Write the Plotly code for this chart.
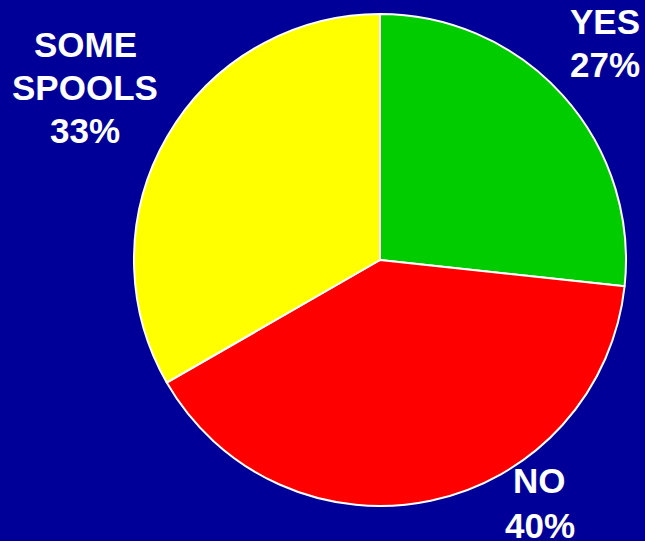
import plotly.graph_objects as go

labels = ["YES", "NO", "SOME SPOOLS"]
values = [26.7, 40.0, 33.3]
colors = ["#00CC00", "#FF0000", "#FFFF00"]
label_lines = [["YES", "27%"], ["NO", "40%"], ["SOME", "SPOOLS", "33%"]]

W, H = 645, 541
cx, cy, r = 380, 260, 246

fig = go.Figure(go.Pie(
    labels=labels, values=values, sort=False, direction="clockwise", rotation=0,
    marker=dict(colors=colors, line=dict(color="white", width=2)),
    textinfo="none", hoverinfo="label+percent", showlegend=False,
    domain=dict(x=[(cx - r) / W, (cx + r) / W], y=[(H - cy - r) / H, (H - cy + r) / H]),
))

# pixel centres of each text line
line_pos = [[(605, 21), (605, 65)], [(539, 480), (540, 525)], [(85, 44), (85, 87.5), (85, 130.5)]]
for lines, poss in zip(label_lines, line_pos):
    for txt, (x, y) in zip(lines, poss):
        fig.add_annotation(
            text="<b>" + txt + "</b>", x=x / W, y=1 - y / H, xref="paper", yref="paper",
            xanchor="center", yanchor="middle", showarrow=False, align="center",
            font=dict(family="Liberation Sans, Arial, sans-serif", size=35, color="white"),
        )

fig.update_layout(
    width=W, height=H, margin=dict(l=0, r=0, t=0, b=0),
    paper_bgcolor="#000099", plot_bgcolor="#000099",
)
fig.write_html("out.html")
